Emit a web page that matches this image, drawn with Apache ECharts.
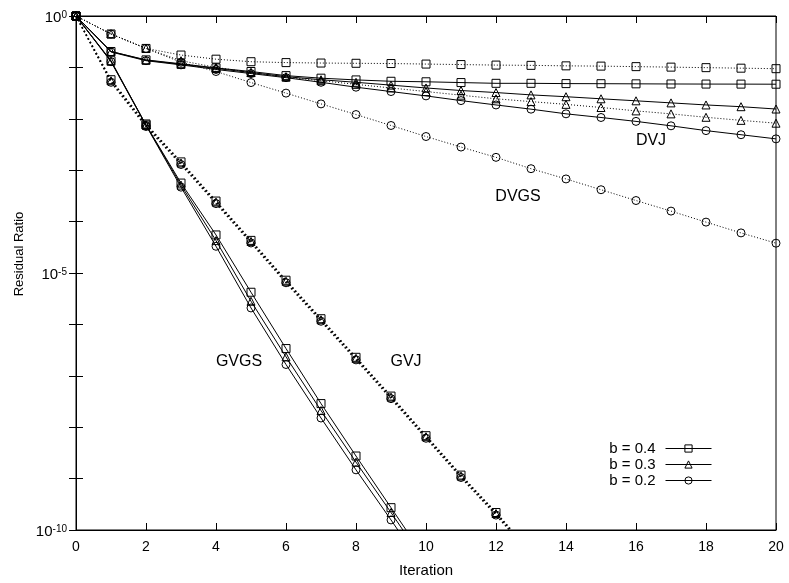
<!DOCTYPE html>
<html>
<head>
<meta charset="utf-8">
<script src="https://cdn.jsdelivr.net/npm/echarts@6/dist/echarts.min.js"></script>
<style>
  html, body { margin: 0; padding: 0; background: #fff; }
  #chart { width: 789px; height: 583px; }
</style>
</head>
<body>
<div id="chart"></div>
<script>
// Residual ratio per iteration for the four solvers and three b settings
const iterations = [0, 1, 2, 3, 4, 5, 6, 7, 8, 9, 10, 11, 12, 13, 14, 15, 16, 17, 18, 19, 20];

// DVJ (solid, slow)
const dvjB04 = [1, 0.204, 0.140, 0.1175, 0.0977, 0.0832, 0.0692, 0.0617, 0.0571, 0.0537, 0.0525,
                0.0507, 0.0490, 0.0490, 0.0484, 0.0482, 0.0479, 0.0476, 0.0474, 0.0473, 0.0471];
const dvjB03 = [1, 0.204, 0.138, 0.1148, 0.0955, 0.0794, 0.0661, 0.0575, 0.0513, 0.0452, 0.0398,
                0.0355, 0.0324, 0.0292, 0.0269, 0.0245, 0.0224, 0.0204, 0.0186, 0.0172, 0.0155];
const dvjB02 = [1, 0.1995, 0.135, 0.112, 0.0912, 0.0759, 0.0631, 0.0513, 0.0412, 0.0339, 0.0279,
                0.0226, 0.0186, 0.0154, 0.0125, 0.0106, 0.00891, 0.0073, 0.00589, 0.0049, 0.00407];

// DVGS (dotted)
const dvgsB04 = [1, 0.447, 0.234, 0.174, 0.1445, 0.129, 0.124, 0.1216, 0.1202, 0.1189, 0.1161,
                 0.1135, 0.1109, 0.1096, 0.1072, 0.1059, 0.1035, 0.1012, 0.0989, 0.0966, 0.0944];
const dvgsB03 = [1, 0.447, 0.234, 0.135, 0.1, 0.0794, 0.0646, 0.055, 0.0468, 0.0398, 0.0339,
                 0.0288, 0.0245, 0.0216, 0.0191, 0.0166, 0.01426, 0.01247, 0.0107, 0.00933, 0.00822];
const dvgsB02 = [1, 0.447, 0.234, 0.126, 0.0832, 0.0507, 0.0316, 0.0195, 0.0121, 0.00741, 0.00452,
                 0.00282, 0.00178, 0.00107, 6.76e-4, 4.17e-4, 2.57e-4, 1.6e-4, 9.77e-5, 6.03e-5, 3.8e-5];

// GVGS (solid, fast)
const gvgsB04 = [1, 0.135, 7.59e-3, 5.62e-4, 5.5e-5, 4.22e-6, 3.39e-7, 2.88e-8, 2.75e-9, 2.72e-10, 2.69e-11];
const gvgsB03 = [1, 0.132, 7.59e-3, 5.13e-4, 4.27e-5, 2.82e-6, 2.34e-7, 2.11e-8, 2.09e-9, 2.19e-10, 2.19e-11];
const gvgsB02 = [1, 0.129, 7.41e-3, 4.68e-4, 3.31e-5, 2.09e-6, 1.66e-7, 1.51e-8, 1.48e-9, 1.57e-10, 1.58e-11];

// GVJ (dotted, fast)
const gvjB04 = [1, 0.0576, 7.94e-3, 1.45e-3, 2.51e-4, 4.31e-5, 7.24e-6, 1.29e-6, 2.29e-7, 4.03e-8, 6.84e-9, 1.17e-9, 2.19e-10, 3.72e-11];
const gvjB03 = [1, 0.055, 7.59e-3, 1.38e-3, 2.40e-4, 4.12e-5, 6.92e-6, 1.23e-6, 2.19e-7, 3.85e-8, 6.53e-9, 1.12e-9, 2.09e-10, 3.55e-11];
const gvjB02 = [1, 0.0513, 7.08e-3, 1.29e-3, 2.24e-4, 3.84e-5, 6.46e-6, 1.15e-6, 2.04e-7, 3.59e-8, 6.09e-9, 1.05e-9, 1.95e-10, 3.31e-11];

const legendNames = ['b = 0.4', 'b = 0.3', 'b = 0.2'];
const symbols = ['rect', 'triangle', 'circle'];
const symbolSizes = [8, 8, 8];

const FONT = '"Liberation Sans", Arial, sans-serif';

// dash patterns: fine dots for DVGS, heavier dots for GVJ
const dashFine = { type: [1, 2], width: 1 };
const dashBold = { type: [1.6, 2.6], width: 1.4 };

function makeSeries(bIndex, values, dash) {
  return {
    type: 'line',
    name: legendNames[bIndex],
    data: values.map((v, i) => [iterations[i], v]),
    symbol: symbols[bIndex],
    symbolSize: symbolSizes[bIndex],
    showAllSymbol: true,
    clip: true,
    silent: true,
    animation: false,
    lineStyle: dash
      ? { color: '#000', width: dash.width, type: dash.type }
      : { color: '#000', width: 1, type: 'solid' },
    itemStyle: { color: 'rgba(0,0,0,0)', borderColor: '#000', borderWidth: 1 },
    emphasis: { disabled: true }
  };
}

const series = [
  makeSeries(0, dvjB04, null),
  makeSeries(1, dvjB03, null),
  makeSeries(2, dvjB02, null),
  makeSeries(0, dvgsB04, dashFine),
  makeSeries(1, dvgsB03, dashFine),
  makeSeries(2, dvgsB02, dashFine),
  makeSeries(0, gvgsB04, null),
  makeSeries(1, gvgsB03, null),
  makeSeries(2, gvgsB02, null),
  makeSeries(0, gvjB04, dashBold),
  makeSeries(1, gvjB03, dashBold),
  makeSeries(2, gvjB02, dashBold)
];

function powerLabel(value) {
  const e = Math.round(Math.log10(value));
  if (e % 5 !== 0) return '';
  return '{b|10}{s|' + e + '}';
}

const tickStyle = { show: true, inside: true, length: 7, lineStyle: { color: '#000', width: 1 } };
const lineAxis = { show: true, lineStyle: { color: '#000', width: 1 } };

const chart = echarts.init(document.getElementById('chart'), null, { renderer: 'canvas' });

chart.setOption({
  backgroundColor: '#fff',
  animation: false,
  grid: { left: 76, right: 13, top: 16, bottom: 52, show: true, borderColor: '#000', borderWidth: 1, containLabel: false },
  legend: {
    data: legendNames,
    orient: 'vertical',
    right: 72,
    top: 436,
    align: 'right',
    itemWidth: 46,
    itemHeight: 9,
    itemGap: 1,
    selectedMode: false,
    textStyle: { fontFamily: FONT, fontSize: 15, color: '#000', padding: [0, 5, 0, 0] },
    lineStyle: { color: '#000', width: 1, type: 'solid' },
    itemStyle: { color: 'rgba(0,0,0,0)', borderColor: '#000', borderWidth: 1 }
  },
  xAxis: [
    {
      type: 'value', position: 'bottom', min: 0, max: 20, interval: 2,
      name: 'Iteration', nameLocation: 'middle', nameGap: 33,
      nameTextStyle: { fontFamily: FONT, fontSize: 15, color: '#000' },
      axisLine: lineAxis, axisTick: tickStyle,
      axisLabel: { fontFamily: FONT, fontSize: 14, color: '#000', margin: 10 },
      splitLine: { show: false }
    },
    {
      type: 'value', position: 'top', min: 0, max: 20, interval: 2,
      axisLine: lineAxis, axisTick: tickStyle,
      axisLabel: { show: false }, splitLine: { show: false }
    }
  ],
  yAxis: [
    {
      type: 'log', logBase: 10, position: 'left', min: 1e-10, max: 1, interval: 1,
      axisLine: lineAxis, axisTick: tickStyle,
      axisLabel: {
        margin: 9, color: '#000',
        formatter: powerLabel,
        rich: {
          b: { fontFamily: FONT, fontSize: 15, color: '#000', padding: [4, 0, 0, 0], verticalAlign: 'top' },
          s: { fontFamily: FONT, fontSize: 10, color: '#000', padding: [4, 0, 0, 0], verticalAlign: 'top' }
        }
      },
      splitLine: { show: false }, minorTick: { show: false }
    },
    {
      type: 'log', logBase: 10, position: 'right', min: 1e-10, max: 1, interval: 1,
      axisLine: lineAxis, axisTick: tickStyle,
      axisLabel: { show: false }, splitLine: { show: false }
    }
  ],
  graphic: [
    { type: 'text', rotation: Math.PI / 2, x: 19, y: 254,
      style: { text: 'Residual Ratio', font: '13px ' + FONT, fill: '#000', align: 'center', verticalAlign: 'middle' } },
    { type: 'text', x: 651, y: 141,
      style: { text: 'DVJ', font: '16px ' + FONT, fill: '#000', align: 'center', verticalAlign: 'middle' } },
    { type: 'text', x: 518, y: 197,
      style: { text: 'DVGS', font: '16px ' + FONT, fill: '#000', align: 'center', verticalAlign: 'middle' } },
    { type: 'text', x: 239, y: 362,
      style: { text: 'GVGS', font: '16px ' + FONT, fill: '#000', align: 'center', verticalAlign: 'middle' } },
    { type: 'text', x: 406, y: 362,
      style: { text: 'GVJ', font: '16px ' + FONT, fill: '#000', align: 'center', verticalAlign: 'middle' } }
  ],
  series: series
});
</script>
</body>
</html>
